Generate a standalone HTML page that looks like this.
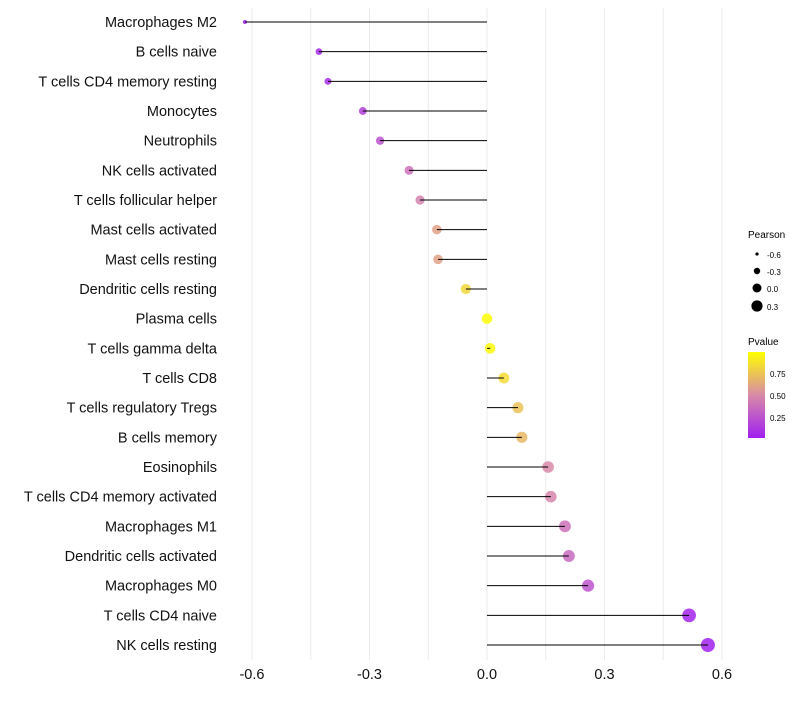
<!DOCTYPE html>
<html><head><meta charset="utf-8"><style>
body{margin:0;background:#fff;font-family:"Liberation Sans",sans-serif}
svg text{font-family:"Liberation Sans",sans-serif}
</style></head><body>
<svg id="chart" width="800" height="700">
<defs><linearGradient id="pg" x1="0" y1="1" x2="0" y2="0">
<stop offset="0" stop-color="#A020F0"/><stop offset="0.5" stop-color="#D88AA8"/><stop offset="1" stop-color="#FFFF00"/></linearGradient></defs>
<g id="grid"></g><g id="marks"></g><g id="labels"></g>
<g>
<text x="748" y="238" font-size="10">Pearson</text>
<circle cx="757" cy="254" r="1.6" fill="#000"/><text x="767" y="258" font-size="8">-0.6</text>
<circle cx="757" cy="271" r="3.2" fill="#000"/><text x="767" y="275" font-size="8">-0.3</text>
<circle cx="757" cy="288" r="4.5" fill="#000"/><text x="767" y="292" font-size="8">0.0</text>
<circle cx="757" cy="306" r="5.6" fill="#000"/><text x="767" y="310" font-size="8">0.3</text>
</g>
<g>
<text x="748" y="345" font-size="10">Pvalue</text>
<rect x="748" y="352" width="17" height="86" fill="url(#pg)"/>
<text x="770" y="377" font-size="8">0.75</text>
<text x="770" y="399" font-size="8">0.50</text>
<text x="770" y="421" font-size="8">0.25</text>
</g>
</svg>
<script>
const categories=["Macrophages M2","B cells naive","T cells CD4 memory resting","Monocytes","Neutrophils","NK cells activated","T cells follicular helper","Mast cells activated","Mast cells resting","Dendritic cells resting","Plasma cells","T cells gamma delta","T cells CD8","T cells regulatory  Tregs ","B cells memory","Eosinophils","T cells CD4 memory activated","Macrophages M1","Dendritic cells activated","Macrophages M0","T cells CD4 naive","NK cells resting"];
const pearson=[-0.618,-0.429,-0.406,-0.317,-0.273,-0.199,-0.171,-0.128,-0.125,-0.054,0.0,0.008,0.043,0.079,0.089,0.156,0.163,0.199,0.209,0.258,0.516,0.564];
const pvalue=[0.002,0.05,0.06,0.15,0.23,0.38,0.46,0.6,0.6,0.83,0.99,0.97,0.85,0.74,0.7,0.5,0.48,0.38,0.35,0.25,0.02,0.01];
const ticks=[-0.6,-0.3,0.0,0.3,0.6];
const NS="http://www.w3.org/2000/svg";
const x=v=>487+v*391.7;
const y=i=>22+i*29.667;
function col(p){const a=[160,32,240],m=[216,138,168],b=[255,255,0];let c;
if(p<0.5){const t=p/0.5;c=a.map((v,k)=>v+(m[k]-v)*t);}else{const t=(p-0.5)/0.5;c=m.map((v,k)=>v+(b[k]-v)*t);}
return `rgb(${c.map(Math.round).join(",")})`;}
const rad=r=>Math.sqrt(4+38*Math.max(0,r+0.62));
function mk(t,at,parent){const e=document.createElementNS(NS,t);for(const k in at)e.setAttribute(k,at[k]);parent.appendChild(e);return e;}
const G=document.getElementById('grid'),M=document.getElementById('marks'),L=document.getElementById('labels');
for(let v=-0.6;v<=0.61;v+=0.15){const l=mk('line',{x1:x(v),x2:x(v),y1:8,y2:660,stroke:'#ebebeb','stroke-width':1},G);

}
ticks.forEach(t=>{const e=mk('text',{x:x(t),y:679,'font-size':14.5,'text-anchor':'middle',fill:'#111'},L);e.textContent=t.toFixed(1);

});
categories.forEach((c,i)=>{
const cy=y(i);
const dot=mk('circle',{cx:x(pearson[i]),cy:cy,r:rad(pearson[i]),fill:col(pvalue[i]),'fill-opacity':0.85},M);


const ln=mk('line',{x1:x(0),x2:x(pearson[i]),y1:cy,y2:cy,stroke:'#000','stroke-width':1},M);


const t=mk('text',{x:217,y:cy+5,'font-size':14.5,'text-anchor':'end',fill:'#111'},L);t.textContent=c;


});
</script>
</body></html>
